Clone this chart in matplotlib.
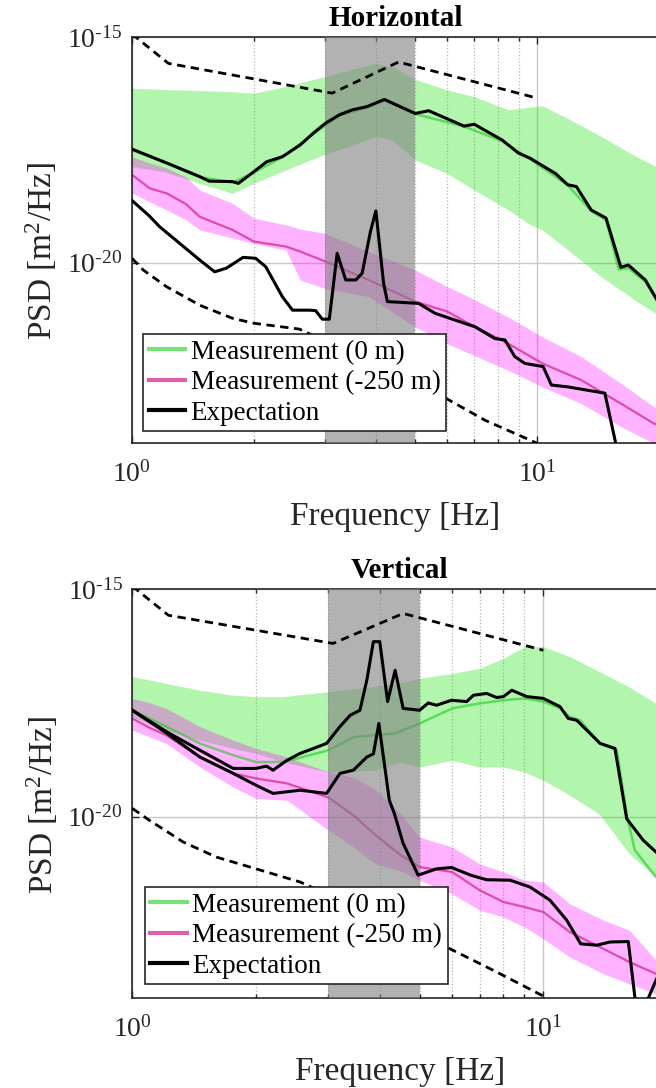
import numpy as np
import matplotlib
matplotlib.use('Agg')
import matplotlib.pyplot as plt
from matplotlib.ticker import NullLocator, NullFormatter, LogLocator

# ── data (PSD exponents, log10 of m^2/Hz) ─────────────────────────────
# Horizontal panel
h_green_f = [1.0, 1.2, 1.47, 1.77, 2.0, 2.4, 3.0, 3.5, 4.0, 4.4, 5.0, 6.0, 7.0,
             8.5, 9.6, 10.3, 11.9, 14.4, 17.6, 20.0]
h_green_hi = [-16.13, -16.16, -16.18, -16.21, -16.24, -16.09, -15.87, -15.71, -15.58,
              -15.66, -15.93, -16.17, -16.32, -16.61, -16.55, -16.52, -16.80, -17.20,
              -17.65, -17.90]
h_green_lo = [-17.87, -17.98, -18.24, -18.46, -18.24, -17.94, -17.59, -17.39, -17.20,
              -17.28, -17.72, -18.02, -18.39, -18.83, -19.15, -19.27, -19.71, -20.31,
              -20.85, -21.17]
h_green_med_f = [1.0, 1.22, 1.47, 1.77, 2.0, 2.35, 2.8, 3.25, 3.8, 4.2, 5.0, 6.6, 8.2,
                 9.6, 11.9, 13.6, 14.8, 15.9, 16.8, 18.5, 20.0]
h_green_med = [-17.50, -17.80, -18.10, -18.22, -18.00, -17.66, -17.15, -16.74, -16.56,
               -16.40, -16.70, -16.98, -17.30, -17.70, -18.28, -18.85, -19.05, -20.15,
               -20.12, -20.42, -20.90]
h_pink_f = [1.0, 1.107, 1.217, 1.36, 1.47, 1.77, 2.0, 2.4, 2.6, 3.0, 3.84, 5.0, 6.0,
            6.77, 8.48, 10.3, 12.85, 16.1, 19.4, 20.0]
h_pink_med = [-18.05, -18.35, -18.46, -18.70, -18.98, -19.27, -19.53, -19.64, -19.75,
              -19.97, -20.38, -20.86, -21.08, -21.34, -21.79, -22.23, -22.60, -23.12,
              -23.56, -23.60]
h_pink_hi = [-17.65, -17.79, -17.90, -18.10, -18.39, -18.68, -19.01, -19.16, -19.25,
             -19.35, -19.75, -20.16, -20.53, -20.75, -21.20, -21.64, -22.08, -22.67,
             -23.19, -23.25]
h_pink_lo = [-18.45, -18.65, -18.83, -19.05, -19.27, -19.45, -19.57, -19.72, -20.38,
             -20.57, -20.75, -21.42, -21.79, -22.00, -22.38, -22.75, -23.12, -23.63,
             -24.00, -24.05]
h_exp_hi_f = [1.0, 1.22, 1.47, 1.55, 1.77, 1.83, 2.0, 2.15, 2.35, 2.6, 2.8, 3.0, 3.25,
              3.5, 3.8, 4.2, 5.0, 5.4, 6.6, 7.0, 8.2, 9.0, 9.6, 11.1, 11.9, 12.5, 13.6,
              14.8, 16.1, 16.8, 18.5, 20.0]
h_exp_hi = [-17.48, -17.79, -18.09, -18.19, -18.20, -18.24, -17.98, -17.76, -17.65,
            -17.39, -17.13, -16.91, -16.72, -16.61, -16.54, -16.38, -16.69, -16.63,
            -16.97, -16.93, -17.28, -17.57, -17.68, -18.02, -18.27, -18.31, -18.83,
            -19.01, -20.10, -20.05, -20.38, -20.90]
h_exp_lo_f = [1.0, 1.1, 1.17, 1.34, 1.47, 1.6, 1.71, 1.88, 2.02, 2.14, 2.35, 2.49, 2.74,
              2.84, 2.95, 3.07, 3.21, 3.37, 3.57, 3.70, 3.88, 4.0, 4.18, 4.27, 5.1, 5.6,
              7.03, 7.87, 8.33, 8.81, 9.33, 10.35, 10.85, 11.9, 14.7, 15.9]
h_exp_lo = [-18.62, -18.95, -19.20, -19.64, -19.94, -20.20, -20.12, -19.88, -19.90,
            -20.09, -20.75, -21.05, -21.05, -21.06, -21.25, -21.25, -19.79, -20.38,
            -20.38, -20.23, -19.30, -18.85, -20.46, -20.86, -20.90, -21.12, -21.42,
            -21.68, -21.71, -22.08, -22.23, -22.30, -22.71, -22.75, -22.89, -24.30]
h_req_hi_f = [1.0, 1.23, 3.12, 4.55, 10.0]
h_req_hi = [-14.93, -15.58, -16.24, -15.55, -16.35]
h_req_lo_f = [1.0, 1.066, 1.217, 1.47, 1.77, 2.0, 2.59, 5.81, 7.44, 10.0]
h_req_lo = [-19.90, -20.16, -20.53, -20.94, -21.23, -21.34, -21.47, -22.95, -23.49, -24.00]

# Vertical panel
v_green_f = [1.0, 1.21, 1.46, 1.76, 2.0, 2.33, 3.0, 3.86, 4.5, 5.0, 6.0, 7.0, 8.0, 9.0,
             10.0, 11.6, 13.7, 16.2, 18.8, 20.0]
v_green_hi = [-16.92, -17.07, -17.22, -17.33, -17.36, -17.36, -17.25, -17.14, -17.05,
              -16.96, -16.85, -16.74, -16.52, -16.26, -16.26, -16.48, -16.81, -17.15,
              -17.51, -17.65]
v_green_lo = [-17.80, -18.10, -18.32, -18.50, -18.61, -18.80, -19.02, -18.98, -18.80,
              -18.91, -18.76, -18.91, -18.91, -19.02, -19.20, -19.53, -19.95, -20.82,
              -21.33, -21.50]
v_green_med_f = [1.0, 1.21, 1.46, 1.76, 2.0, 2.33, 3.0, 3.45, 3.86, 4.36, 5.0, 6.0, 7.0,
                 8.0, 9.0, 10.0, 11.0, 11.6, 12.3, 13.7, 15.1, 16.0, 16.7, 18.8, 20.0]
v_green_med = [-17.66, -18.02, -18.39, -18.65, -18.80, -18.80, -18.54, -18.25, -18.21,
               -18.17, -17.95, -17.62, -17.51, -17.44, -17.40, -17.47, -17.62, -17.80,
               -17.88, -18.39, -18.54, -20.01, -20.74, -21.33, -21.45]
v_pink_f = [1.0, 1.104, 1.21, 1.46, 1.76, 2.0, 2.38, 3.0, 3.45, 3.9, 4.5, 5.0, 6.0, 7.0,
            8.0, 9.0, 10.0, 11.6, 14.0, 16.2, 18.8, 20.0]
v_pink_med = [-17.84, -18.05, -18.21, -18.69, -19.05, -19.16, -19.27, -19.58, -19.97,
              -20.40, -20.85, -21.11, -21.22, -21.62, -21.88, -21.99, -22.10, -22.54,
              -22.91, -23.20, -23.46, -23.55]
v_pink_hi = [-17.40, -17.50, -17.62, -18.02, -18.32, -18.50, -18.69, -19.02, -19.13,
             -19.40, -19.95, -20.45, -20.67, -21.04, -21.22, -21.40, -21.44, -21.92,
             -22.28, -22.50, -23.16, -23.30]
v_pink_lo = [-18.10, -18.25, -18.39, -18.91, -19.35, -19.60, -19.64, -20.30, -20.67,
             -21.04, -21.20, -21.40, -21.70, -22.06, -22.21, -22.43, -22.69, -23.09,
             -23.46, -23.68, -23.90, -24.00]
v_exp_hi_f = [1.0, 1.21, 1.46, 1.76, 2.0, 2.12, 2.20, 2.38, 2.56, 2.76, 2.97, 3.2, 3.39,
              3.58, 3.72, 3.86, 4.0, 4.18, 4.36, 4.56, 5.0, 5.25, 5.5, 5.98, 6.51, 6.76,
              7.28, 7.7, 8.0, 8.38, 9.11, 10.0, 10.98, 11.5, 12.06, 13.75, 14.94, 15.96,
              17.5, 18.8, 20.0]
v_exp_hi = [-17.66, -18.13, -18.54, -18.94, -18.94, -18.89, -18.98, -18.76, -18.61,
            -18.50, -18.39, -18.02, -17.77, -17.66, -17.00, -16.15, -16.15, -17.47,
            -16.78, -17.62, -17.66, -17.50, -17.55, -17.44, -17.47, -17.33, -17.29,
            -17.38, -17.36, -17.22, -17.36, -17.40, -17.58, -17.84, -17.88, -18.39,
            -18.50, -20.05, -20.52, -20.78, -20.95]
v_exp_lo_f = [1.0, 1.21, 1.46, 1.76, 2.0, 2.2, 2.56, 2.97, 3.2, 3.45, 3.72, 3.86, 3.98,
              4.22, 4.34, 4.56, 4.96, 5.5, 5.98, 6.66, 7.28, 8.3, 9.28, 10.38, 11.4,
              12.33, 13.49, 14.53, 16.1, 16.7, 17.2, 18.0, 18.8, 20.0]
v_exp_lo = [-17.66, -18.16, -18.69, -19.05, -19.31, -19.49, -19.42, -19.49, -19.05,
            -18.98, -18.69, -18.62, -17.95, -19.64, -19.93, -20.59, -21.29, -21.15,
            -21.12, -21.29, -21.39, -21.40, -21.55, -21.84, -22.28, -22.80, -22.83,
            -22.76, -22.75, -23.97, -24.50, -24.00, -23.60, -23.10]
v_req_hi_f = [1.0, 1.224, 3.08, 4.56, 10.0]
v_req_hi = [-14.93, -15.57, -16.19, -15.53, -16.34]
v_req_lo_f = [1.0, 1.10, 1.33, 1.60, 2.0, 2.56, 5.93, 7.7, 10.0]
v_req_lo = [-19.82, -20.08, -20.56, -20.89, -21.15, -21.44, -22.91, -23.42, -23.95]

band_f = [3.0, 5.0]
labels = ['Measurement (0 m)', 'Measurement (-250 m)', 'Expectation']
x_ticks = [1, 10]
x_ticklabels = [r'$\mathregular{10^{0}}$', r'$\mathregular{10^{1}}$']
y_ticks = [1e-20, 1e-15]
y_ticklabels = [r'$\mathregular{10^{\text{-20}}}$', r'$\mathregular{10^{\text{-15}}}$']

# ── style ────────────────────────────────────────────────
plt.rcParams['font.family'] = ['Liberation Serif', 'DejaVu Serif']
plt.rcParams['mathtext.fontset'] = 'custom'
plt.rcParams['mathtext.rm'] = 'Liberation Serif'
plt.rcParams['mathtext.it'] = 'Liberation Serif:italic'
plt.rcParams['mathtext.bf'] = 'Liberation Serif:bold'
AX_COL = '#262626'
GREEN_FILL, PINK_FILL = '#10e000', '#ff00ff'
GREEN_LINE, PINK_LINE = '#22cc22', '#d42a8c'


def p(e):
    return 10.0 ** np.asarray(e)


def draw_panel(ax, title, green, green_med, pink, exp_hi, exp_lo, req_hi, req_lo,
               leg_xy, ylab_xy):
    gf, ghi, glo = green
    ax.fill_between(gf, p(glo), p(ghi), color=GREEN_FILL, alpha=0.32, lw=0, zorder=1)
    pf, pmed, phi, plo = pink
    ax.fill_between(pf, p(plo), p(phi), color=PINK_FILL, alpha=0.3, lw=0, zorder=1.1)
    l1, = ax.plot(green_med[0], p(green_med[1]), color=GREEN_LINE, alpha=0.6, lw=1.8,
                  zorder=2, label=labels[0])
    l2, = ax.plot(pf, p(pmed), color=PINK_LINE, alpha=0.75, lw=1.6, zorder=2,
                  label=labels[1])
    ax.axvspan(band_f[0], band_f[1], color='#808080', alpha=0.6, lw=0, zorder=3)
    l3, = ax.plot(exp_hi[0], p(exp_hi[1]), color='k', lw=2.2, zorder=4, label=labels[2])
    ax.plot(exp_lo[0], p(exp_lo[1]), color='k', lw=2.2, zorder=4)
    for f, e in (req_hi, req_lo):
        ax.plot(f, p(e), color='k', lw=2.0, ls=(0, (3, 2)), zorder=4)

    ax.set_xscale('log')
    ax.set_yscale('log')
    ax.set_xlim(1, 20)
    ax.set_ylim(1e-24, 1e-15)
    ax.set_xticks(x_ticks, x_ticklabels)
    ax.set_yticks(y_ticks, y_ticklabels)
    ax.yaxis.set_minor_locator(NullLocator())
    ax.xaxis.set_minor_locator(LogLocator(base=10, subs=np.arange(2, 10)))
    ax.xaxis.set_minor_formatter(NullFormatter())
    ax.set_axisbelow(True)
    ax.grid(True, which='major', color='#c8c8c8', lw=1.0)
    ax.grid(True, which='minor', axis='x', color='#b8b8b8', lw=0.9, ls=':')
    ax.tick_params(which='both', direction='in', top=True, right=False,
                   colors=AX_COL, labelsize=20, width=1.0)
    ax.tick_params(which='major', length=5)
    ax.tick_params(which='minor', length=3)
    ax.tick_params(axis='x', pad=13)
    ax.tick_params(axis='y', pad=7)
    for s in ax.spines.values():
        s.set_color(AX_COL)
        s.set_linewidth(1.2)

    ax.set_title(title, fontsize=21, fontweight='bold', pad=8)
    ax.set_xlabel('Frequency [Hz]', fontsize=24, color=AX_COL, labelpad=10)
    ax.set_ylabel('PSD [m$^2$/Hz]', fontsize=24, color=AX_COL)
    ax.yaxis.set_label_coords(*ylab_xy)

    leg = ax.legend(handles=[l1, l2, l3], loc='lower left', bbox_to_anchor=leg_xy,
                    borderaxespad=0, fontsize=19.5, frameon=True, fancybox=False,
                    framealpha=1, edgecolor=AX_COL, handlelength=1.35,
                    handletextpad=0.2, labelspacing=0.2, borderpad=0.2)
    leg.get_frame().set_linewidth(1.2)
    for h in leg.get_lines():
        h.set_linewidth(3)
    leg.set_zorder(6)


fig = plt.figure(figsize=(6.56, 10.88), dpi=100)
ax1 = fig.add_axes([0.2012, 0.5926, 0.8034, 0.3732])
ax2 = fig.add_axes([0.2017, 0.0824, 0.8151, 0.3759])

draw_panel(ax1, 'Horizontal', (h_green_f, h_green_hi, h_green_lo),
           (h_green_med_f, h_green_med), (h_pink_f, h_pink_med, h_pink_hi, h_pink_lo),
           (h_exp_hi_f, h_exp_hi), (h_exp_lo_f, h_exp_lo),
           (h_req_hi_f, h_req_hi), (h_req_lo_f, h_req_lo), (0.0214, 0.030),
           (-0.138, 0.474))
draw_panel(ax2, 'Vertical', (v_green_f, v_green_hi, v_green_lo),
           (v_green_med_f, v_green_med), (v_pink_f, v_pink_med, v_pink_hi, v_pink_lo),
           (v_exp_hi_f, v_exp_hi), (v_exp_lo_f, v_exp_lo),
           (v_req_hi_f, v_req_hi), (v_req_lo_f, v_req_lo), (0.0238, 0.035),
           (-0.136, 0.474))

fig.savefig('out.png', dpi=100)
